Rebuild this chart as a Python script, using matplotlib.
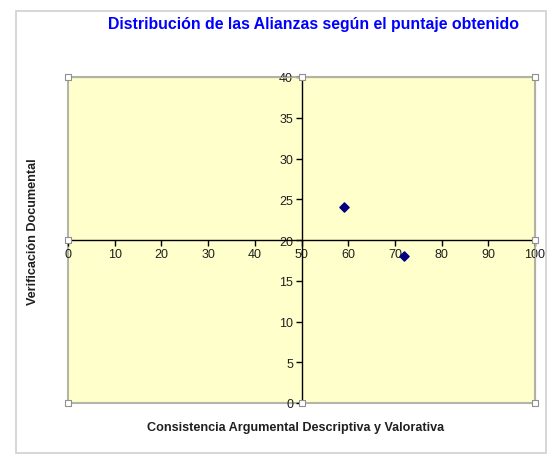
import matplotlib.pyplot as plt
from matplotlib.patches import Rectangle

# data
consistencia = [59, 72]
verificacion = [24, 18]
x_ticks = [0, 10, 20, 30, 40, 50, 60, 70, 80, 90, 100]
y_ticks = [0, 5, 10, 15, 20, 25, 30, 35, 40]
x_cross = 50
y_cross = 20

plt.rcParams['font.family'] = ['Liberation Sans', 'DejaVu Sans']

fig = plt.figure(figsize=(5.55, 4.6), dpi=100)
W, H = 555, 460

# chart area frame
fig.patches.append(Rectangle((16 / W, 1 - 454 / H), 530 / W, 442 / H,
                             transform=fig.transFigure, fill=False,
                             edgecolor='#d0d0d0', lw=1.2))

ax = fig.add_axes([68 / W, 1 - 404 / H, 467 / W, 326 / H])
ax.set_facecolor('#ffffcc')
ax.set_xlim(x_ticks[0], x_ticks[-1])
ax.set_ylim(y_ticks[0], y_ticks[-1])

# axes cross in the middle, like the Excel chart
ax.spines['left'].set_position(('data', x_cross))
ax.spines['bottom'].set_position(('data', y_cross))
for s in ['left', 'bottom']:
    ax.spines[s].set_color('black')
    ax.spines[s].set_linewidth(1.0)
for s in ['top', 'right']:
    ax.spines[s].set_color('#b0b0a0')

# plot-area outline
ax.plot([0, 0, 100, 100, 0], [0, 40, 40, 0, 0], color='#b4b4a8', lw=1.5,
        clip_on=False, zorder=1)

ax.set_xticks(x_ticks)
ax.set_yticks(y_ticks)
ax.tick_params(direction='out', length=4, width=1, labelsize=9, pad=2,
               labelcolor='#202020')

ax.scatter(consistencia, verificacion, marker='D', s=22, color='#000080',
           zorder=5)

# selection handles
hx = [0, 50, 100, 0, 100, 0, 50, 100]
hy = [0, 0, 0, 20, 20, 40, 40, 40]
ax.scatter(hx, hy, marker='s', s=22, facecolor='white', edgecolor='#909090',
           lw=0.8, clip_on=False, zorder=6)

fig.text(314 / W, 1 - 25 / H,
         'Distribución de las Alianzas según el puntaje obtenido',
         ha='center', va='center', color='#0000ff', fontsize=11.4,
         fontweight='bold')
fig.text(296 / W, 1 - 428 / H,
         'Consistencia Argumental Descriptiva y Valorativa',
         ha='center', va='center', fontsize=9.1, fontweight='bold',
         color='#202020')
fig.text(33 / W, 1 - 232 / H, 'Verificación Documental', rotation=90,
         ha='center', va='center', fontsize=9.1, fontweight='bold',
         color='#202020')

fig.savefig('out.png', dpi=100)
